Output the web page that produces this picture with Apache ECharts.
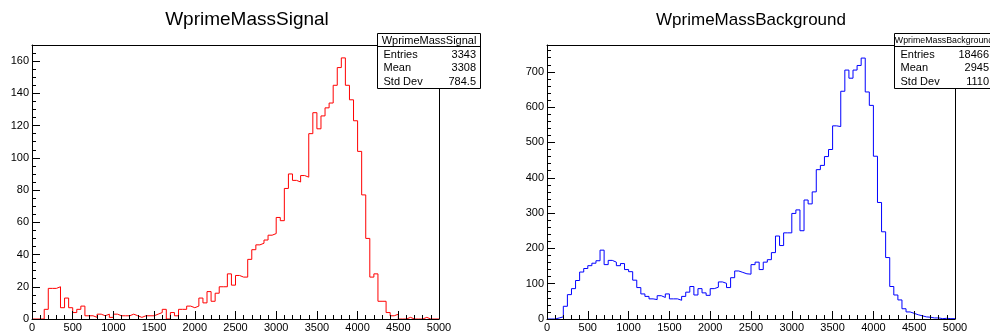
<!DOCTYPE html>
<html>
<head>
<meta charset="utf-8">
<script src="https://cdn.jsdelivr.net/npm/echarts@6/dist/echarts.min.js"></script>
<style>
html,body{margin:0;padding:0;background:#fff;}
#c{width:990px;height:333px;}
</style>
</head>
<body>
<div id="c"></div>
<script>
// ---------------- data ----------------
const histTitles = ['WprimeMassSignal', 'WprimeMassBackground'];
const xMin = 0, xMax = 5000, binWidth = 50;
const xMajorStep = 500, xMinorStep = 100;

const signalCounts = [
  0, 0, 0, 6, 19, 19, 20, 7, 13, 7,
  4, 6, 8, 2, 2, 1, 3, 2, 3, 1,
  3, 2, 2, 2, 3, 2, 1, 2, 2, 2,
  3, 4, 6, 0, 4, 2, 6, 6, 8, 7,
  8, 13, 10, 17, 11, 16, 20, 20, 28, 21,
  27, 26, 26, 37, 43, 46, 47, 49, 52, 53,
  63, 61, 81, 90, 86, 85, 89, 88, 115, 128,
  118, 126, 131, 134, 145, 156, 162, 145, 136, 123,
  104, 77, 50, 26, 28, 11, 11, 4, 2, 3,
  0, 0, 1, 0, 0, 0, 1, 0, 0, 0
];

const backgroundCounts = [
  0, 0, 3, 6, 36, 69, 86, 109, 133, 143,
  151, 158, 165, 195, 154, 166, 161, 151, 157, 140,
  134, 110, 89, 71, 64, 57, 55, 66, 61, 71,
  57, 57, 53, 64, 76, 92, 68, 86, 74, 67,
  86, 90, 105, 101, 89, 117, 136, 132, 128, 127,
  154, 161, 140, 161, 168, 188, 235, 208, 244, 244,
  299, 309, 250, 337, 326, 360, 423, 435, 460, 480,
  547, 545, 645, 705, 682, 705, 718, 739, 643, 605,
  461, 330, 247, 174, 92, 68, 54, 29, 20, 16,
  12, 9, 6, 5, 3, 3, 1, 2, 1, 1
];

const statLabels = ['Entries', 'Mean', 'Std Dev'];
const signalStatValues = ['3343', '3308', '784.5'];
const backgroundStatValues = ['18466', '2945', '1110'];

const signalYMax = 170, signalYMajor = 20, signalYMinor = 5;
const backgroundYMax = 776, backgroundYMajor = 100, backgroundYMinor = 20;

// ---------------- chart ----------------
const FONT = 'Liberation Sans, Arial, Helvetica, sans-serif';
const BLACK = '#000';

function stepPoints(counts) {
  const pts = counts.map((c, i) => [xMin + i * binWidth, c]);
  pts.push([xMax, counts[counts.length - 1]]);
  return pts;
}

const plainNum = v => String(v);

const grids = [
  { left: 32, top: 45, width: 407, height: 276 },
  { left: 547, top: 45, width: 408, height: 276 }
];

const xAxes = [], yAxes = [];
function addAxes(g, yMax, yMajor, yMinor) {
  const base = { gridIndex: g, type: 'value', splitLine: { show: false }, z: 5, silent: true };
  xAxes.push(Object.assign({}, base, {
    min: xMin, max: xMax, interval: xMajorStep, position: 'bottom',
    axisLine: { show: true, onZero: false, lineStyle: { color: BLACK, width: 1 } },
    axisTick: { show: true, inside: true, length: 8, lineStyle: { color: BLACK, width: 1 } },
    axisLabel: { show: true, margin: 3, fontSize: 11, color: BLACK, fontFamily: FONT,
                 showMinLabel: true, showMaxLabel: true, formatter: plainNum }
  }));
  xAxes.push(Object.assign({}, base, {
    min: xMin, max: xMax, interval: xMinorStep, position: 'bottom',
    axisLine: { show: false },
    axisTick: { show: true, inside: true, length: 4, lineStyle: { color: BLACK, width: 1 } },
    axisLabel: { show: false }
  }));
  xAxes.push(Object.assign({}, base, {
    min: xMin, max: xMax, position: 'top',
    axisLine: { show: true, onZero: false, lineStyle: { color: BLACK, width: 1 } },
    axisTick: { show: false }, axisLabel: { show: false }
  }));
  yAxes.push(Object.assign({}, base, {
    min: 0, max: yMax, interval: yMajor, position: 'left',
    axisLine: { show: true, onZero: false, lineStyle: { color: BLACK, width: 1 } },
    axisTick: { show: true, inside: true, length: 8, lineStyle: { color: BLACK, width: 1 } },
    axisLabel: { show: true, margin: 3, fontSize: 11, color: BLACK, fontFamily: FONT,
                 showMinLabel: true, showMaxLabel: false, formatter: plainNum }
  }));
  yAxes.push(Object.assign({}, base, {
    min: 0, max: yMax, interval: yMinor, position: 'left',
    axisLine: { show: false },
    axisTick: { show: true, inside: true, length: 4, lineStyle: { color: BLACK, width: 1 } },
    axisLabel: { show: false }
  }));
  yAxes.push(Object.assign({}, base, {
    min: 0, max: yMax, position: 'right',
    axisLine: { show: true, onZero: false, lineStyle: { color: BLACK, width: 1 } },
    axisTick: { show: false }, axisLabel: { show: false }
  }));
}
addAxes(0, signalYMax, signalYMajor, signalYMinor);
addAxes(1, backgroundYMax, backgroundYMajor, backgroundYMinor);

function statsBox(left, right, title, titleSize, values) {
  const top = 33.5, bottom = 88.5, sep = 46.5;
  const els = [
    { type: 'rect', z: 100, shape: { x: left, y: top, width: right - left, height: bottom - top },
      style: { fill: '#fff', stroke: BLACK, lineWidth: 1 } },
    { type: 'line', z: 101, shape: { x1: left, y1: sep, x2: right, y2: sep },
      style: { stroke: BLACK, lineWidth: 1 } },
    { type: 'text', z: 102, x: (left + right) / 2, y: 40.5,
      style: { text: title, font: titleSize + 'px ' + FONT, fill: BLACK, align: 'center', verticalAlign: 'middle' } }
  ];
  statLabels.forEach((lab, i) => {
    const y = 54.5 + i * 13.6;
    els.push({ type: 'text', z: 102, x: left + 6, y: y,
      style: { text: lab, font: '11px ' + FONT, fill: BLACK, align: 'left', verticalAlign: 'middle' } });
    els.push({ type: 'text', z: 102, x: right - 4.5, y: y,
      style: { text: values[i], font: '11px ' + FONT, fill: BLACK, align: 'right', verticalAlign: 'middle' } });
  });
  return els;
}

const graphics = [
  { type: 'text', z: 102, x: 247, y: 20,
    style: { text: histTitles[0], font: '19px ' + FONT, fill: BLACK, align: 'center', verticalAlign: 'middle' } },
  { type: 'text', z: 102, x: 751, y: 20,
    style: { text: histTitles[1], font: '17px ' + FONT, fill: BLACK, align: 'center', verticalAlign: 'middle' } }
].concat(
  statsBox(377.5, 480.5, histTitles[0], 11, signalStatValues),
  statsBox(894.5, 993.5, histTitles[1], 8.8, backgroundStatValues)
);

const chart = echarts.init(document.getElementById('c'), null, { renderer: 'canvas' });
chart.setOption({
  animation: false,
  backgroundColor: '#fff',
  grid: grids,
  xAxis: xAxes,
  yAxis: yAxes,
  series: [
    { type: 'line', xAxisIndex: 0, yAxisIndex: 0, data: stepPoints(signalCounts), step: 'end',
      symbol: 'none', silent: true, z: 2, lineStyle: { color: '#ff0000', width: 1 } },
    { type: 'line', xAxisIndex: 3, yAxisIndex: 3, data: stepPoints(backgroundCounts), step: 'end',
      symbol: 'none', silent: true, z: 2, lineStyle: { color: '#0000ff', width: 1 } }
  ],
  graphic: graphics
});
</script>
</body>
</html>
